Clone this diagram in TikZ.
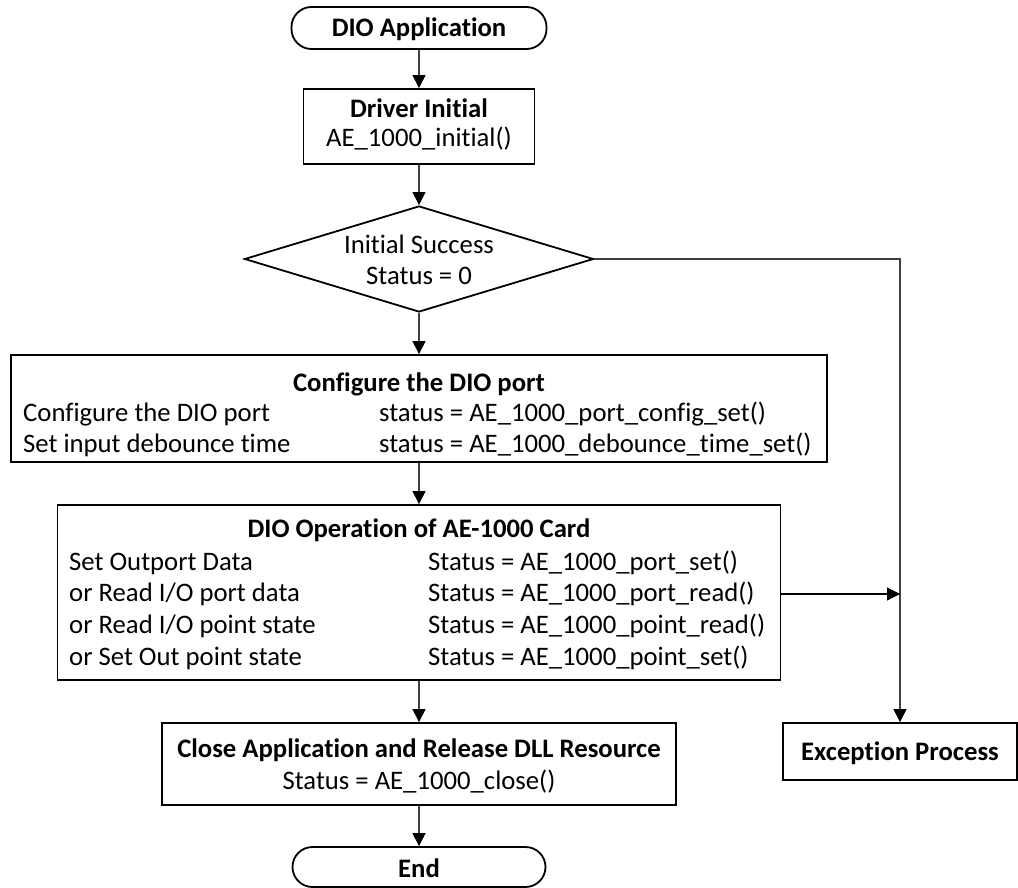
\documentclass[tikz,border=0pt]{standalone}
\usepackage{fontspec}
\setmainfont{Carlito}[Ligatures=NoCommon]
\usetikzlibrary{shapes.geometric,arrows.meta}
\tikzset{
  fc/.style={draw, line width=1.8pt, inner sep=0pt},
  term/.style={fc, rounded corners=20pt},
  conn/.style={line width=1.1pt, draw=black!75, -{Triangle[length=13pt,width=13pt,fill=black,color=black]}},
  hd/.style={anchor=base, inner sep=0pt, font=\bfseries\fontsize{26.7}{32}\selectfont},
  tx/.style={anchor=base, inner sep=0pt, font=\fontsize{26.7}{32}\selectfont},
  txl/.style={tx, anchor=base west},
}
\begin{document}
\begin{tikzpicture}[x=1pt,y=-1pt]
\useasboundingbox (0,0) rectangle (1018,888);
% shapes
\node[term, minimum width=255pt, minimum height=42pt] (start) at (419,28) {};
\node[fc, minimum width=231pt, minimum height=75pt] (drv) at (419,126.5) {};
\node[fc, diamond, minimum width=349pt, minimum height=106pt] (dia) at (419,259) {};
\node[fc, minimum width=816pt, minimum height=107pt] (cfg) at (419,408.5) {};
\node[fc, minimum width=723pt, minimum height=175pt] (dio) at (419,592.5) {};
\node[fc, minimum width=514pt, minimum height=82pt] (cls) at (419,764) {};
\node[term, minimum width=253pt, minimum height=40pt] (endt) at (419,867) {};
\node[fc, minimum width=234pt, minimum height=57pt] (exc) at (900,751.5) {};
% texts
\node[hd] (tstart) at (419,36.5) {DIO Application};
\node[hd] (tdrv1) at (419,118) {Driver Initial};
\node[tx] (tdrv2) at (419,147) {AE\_1000\_initial()};
\node[tx] (tdia1) at (419,253) {Initial Success};
\node[tx] (tdia2) at (419,284) {Status = 0};
\node[hd] (tcfg0) at (419,391) {Configure the DIO port};
\node[txl] (tcfg1) at (23,421) {Configure the DIO port};
\node[txl] (tcfg2) at (23,452) {Set input debounce time};
\node[txl] (tcfg3) at (379,421) {status = AE\_1000\_port\_config\_set()};
\node[txl] (tcfg4) at (379,452) {status = AE\_1000\_debounce\_time\_set()};
\node[hd] (tdio0) at (419,537) {DIO Operation of AE-1000 Card};
\node[txl] (tdio1) at (69,570) {Set Outport Data};
\node[txl] (tdio2) at (69,601.5) {or Read I/O port data};
\node[txl] (tdio3) at (69,633) {or Read I/O point state};
\node[txl] (tdio4) at (69,665) {or Set Out point state};
\node[txl] (tdio5) at (428,570) {Status = AE\_1000\_port\_set()};
\node[txl] (tdio6) at (428,601.5) {Status = AE\_1000\_port\_read()};
\node[txl] (tdio7) at (428,633) {Status = AE\_1000\_point\_read()};
\node[txl] (tdio8) at (428,665) {Status = AE\_1000\_point\_set()};
\node[hd] (tcls1) at (419,757) {Close Application and Release DLL Resource};
\node[tx] (tcls2) at (419,789) {Status = AE\_1000\_close()};
\node[hd] (tend) at (419,877) {End};
\node[hd] (texc) at (900,760) {Exception Process};
% connectors
\draw[conn] (start.south) -- (drv.north);
\draw[conn] (drv.south) -- (dia.north);
\draw[conn] (dia.south) -- (cfg.north);
\draw[conn] (cfg.south) -- (dio.north);
\draw[conn] (dio.south) -- (cls.north);
\draw[conn] (cls.south) -- (endt.north);
\draw[conn] (dia.east) -| (exc.north);
\coordinate (join) at (exc.north |- 0,594);
\draw[line width=1.1pt, -{Triangle[length=13pt,width=13pt]}] (dio.east |- join) -- (join);
\end{tikzpicture}
\end{document}
